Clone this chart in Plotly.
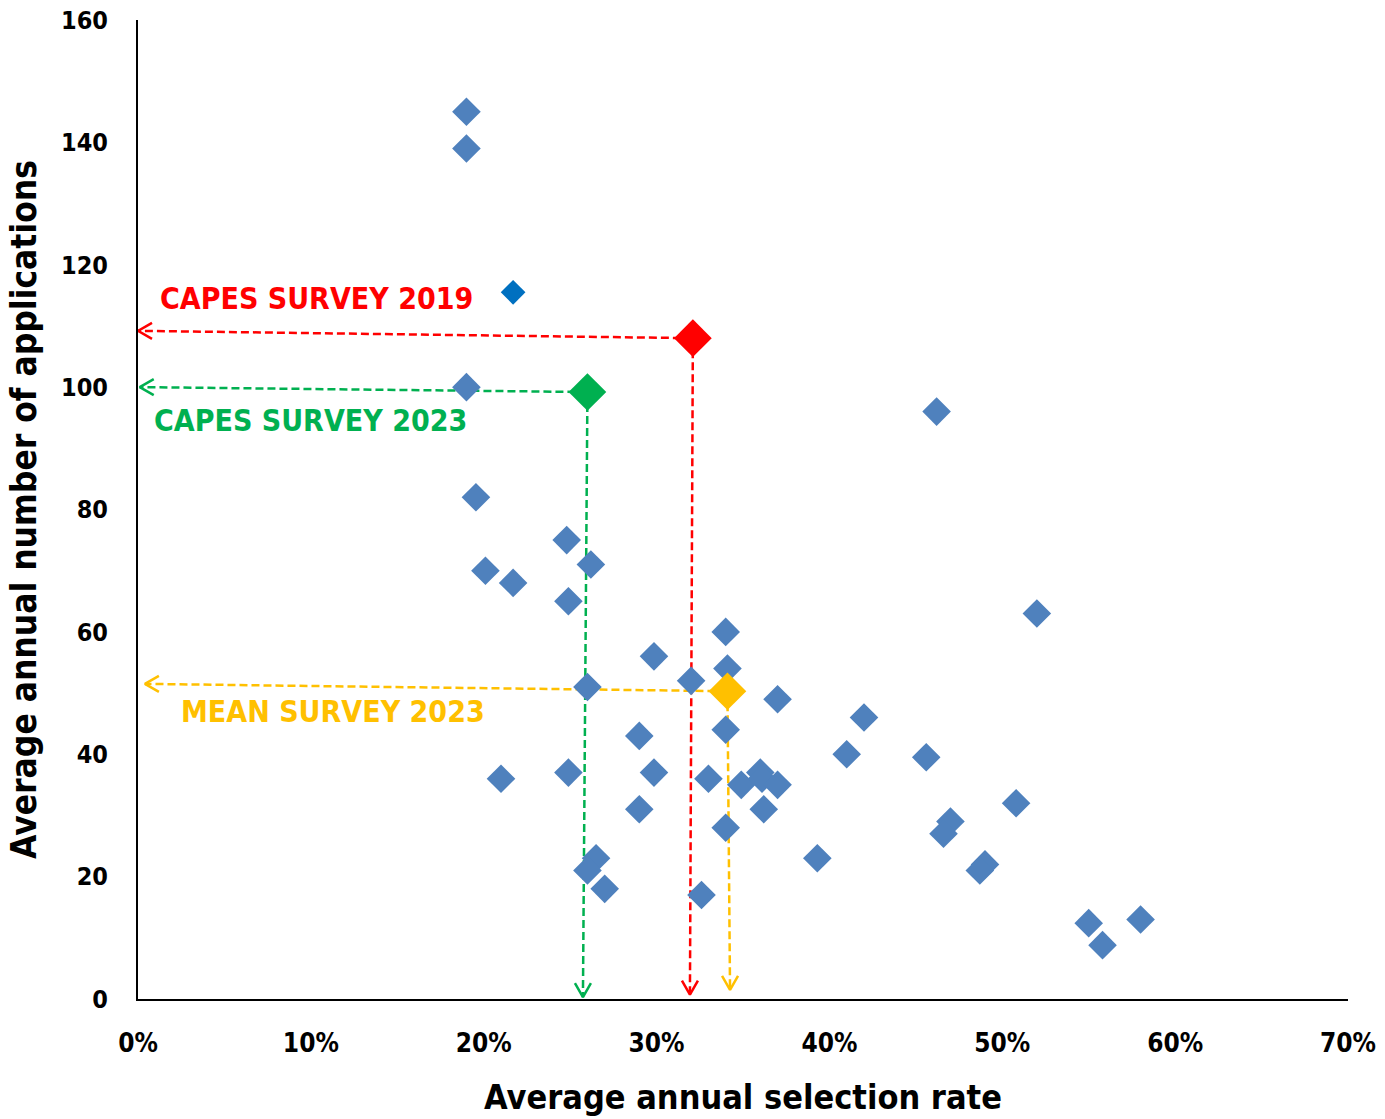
import plotly.graph_objects as go

# --- data -------------------------------------------------------------
sel_rate = [0.19, 0.19, 0.19, 0.1955, 0.201, 0.217, 0.248, 0.262, 0.249, 0.26,
            0.21, 0.249, 0.2985, 0.29, 0.2985, 0.29, 0.265, 0.26, 0.27, 0.32,
            0.34, 0.341, 0.34, 0.34, 0.326, 0.33, 0.349, 0.36, 0.361, 0.37,
            0.362, 0.37, 0.393, 0.41, 0.42, 0.462, 0.456, 0.47, 0.466, 0.49,
            0.487, 0.508, 0.52, 0.55, 0.558, 0.58]
applications = [145, 139, 100, 82, 70, 68, 75, 71, 65, 51,
                36, 37, 56, 43, 37, 31, 23, 21, 18, 52,
                60, 54, 44, 28, 17, 36, 35, 37, 36, 35,
                31, 49, 23, 40, 46, 96, 39.5, 29, 27, 22,
                21, 32, 63, 12.4, 8.8, 13]

highlight_rate = [0.217]
highlight_apps = [115.5]

survey_names = ["CAPES SURVEY 2019", "CAPES SURVEY 2023", "MEAN SURVEY 2023"]
survey_rate = [0.321, 0.26, 0.341]
survey_apps = [108, 99.2, 50.3]
survey_colors = ["#FF0000", "#00B050", "#FFC000"]
# where each dashed arrow ends (left arrow on y axis, down arrow on x axis)
left_tip_rate = [0.0, 0.001, 0.004]
left_tip_apps = [109.2, 100.0, 51.5]
down_tip_rate = [0.3193, 0.2574, 0.3425]
down_tip_apps = [0.7, 0.3, 1.5]
label_rate = [0.0115, 0.008, 0.0235]
label_apps = [114.5, 94.5, 47.0]

X_RANGE = [0, 0.7]
Y_RANGE = [0, 160]

# --- layout geometry (body margin removed in the page) ------------------
W, H = 1385, 1119
ML, MR, MT, MB = 138, 37, 20, 120
px_x = (W - ML - MR) / (X_RANGE[1] - X_RANGE[0])  # pixels per x unit
px_y = (H - MT - MB) / (Y_RANGE[1] - Y_RANGE[0])  # pixels per y unit

FONT = "Liberation Sans Narrow, DejaVu Sans Condensed, Open Sans, sans-serif"

fig = go.Figure()

# dashed arrows
for i in range(len(survey_names)):
    c = survey_colors[i]
    fig.add_trace(go.Scatter(
        x=[survey_rate[i], left_tip_rate[i]], y=[survey_apps[i], left_tip_apps[i]],
        mode="lines", line=dict(color=c, width=2.5, dash="8px,4px"),
        hoverinfo="skip", showlegend=False))
    fig.add_trace(go.Scatter(
        x=[survey_rate[i], down_tip_rate[i]], y=[survey_apps[i], down_tip_apps[i]],
        mode="lines", line=dict(color=c, width=2.5, dash="8px,4px"),
        hoverinfo="skip", showlegend=False))
    L, Wd = 14, 8
    tx, ty = left_tip_rate[i], left_tip_apps[i]
    fig.add_trace(go.Scatter(
        x=[tx + L / px_x, tx, tx + L / px_x], y=[ty + Wd / px_y, ty, ty - Wd / px_y],
        mode="lines", line=dict(color=c, width=2.5),
        hoverinfo="skip", showlegend=False))
    tx, ty = down_tip_rate[i], down_tip_apps[i]
    fig.add_trace(go.Scatter(
        x=[tx - Wd / px_x, tx, tx + Wd / px_x], y=[ty + L / px_y, ty, ty + L / px_y],
        mode="lines", line=dict(color=c, width=2.5),
        hoverinfo="skip", showlegend=False))

# main scatter
fig.add_trace(go.Scatter(
    x=sel_rate, y=applications, mode="markers",
    marker=dict(symbol="diamond", size=22, color="#4F81BD"),
    showlegend=False))
fig.add_trace(go.Scatter(
    x=highlight_rate, y=highlight_apps, mode="markers",
    marker=dict(symbol="diamond", size=19, color="#0070C0"),
    showlegend=False))
fig.add_trace(go.Scatter(
    x=survey_rate, y=survey_apps, mode="markers",
    marker=dict(symbol="diamond", size=29, color=survey_colors),
    showlegend=False))

# labels
for i in range(len(survey_names)):
    fig.add_annotation(
        x=label_rate[i], y=label_apps[i], text="<b>" + survey_names[i] + "</b>",
        showarrow=False, xanchor="left", yanchor="middle",
        font=dict(family=FONT, size=30, color=survey_colors[i]))

fig.update_layout(
    width=W, height=H,
    margin=dict(l=ML, r=MR, t=MT, b=MB),
    plot_bgcolor="white", paper_bgcolor="white",
    font=dict(family=FONT, color="black"),
    xaxis=dict(
        range=X_RANGE, dtick=0.1, tickformat=".0%", showgrid=False, zeroline=False,
        showline=True, linecolor="black", linewidth=2, ticks="", automargin=False,
        ticklabelstandoff=20, ticklabeloverflow="allow",
        tickfont=dict(family=FONT, size=26, weight="bold"),
        title=dict(text="<b>Average annual selection rate</b>",
                   font=dict(family=FONT, size=34), standoff=28)),
    yaxis=dict(
        range=Y_RANGE, dtick=20, showgrid=False, zeroline=False,
        showline=True, linecolor="black", linewidth=2, ticks="", automargin=False,
        ticklabelstandoff=23, ticklabeloverflow="allow",
        tickfont=dict(family=FONT, size=25, weight="bold"),
        title=dict(text="<b>Average annual number of applications</b>",
                   font=dict(family=FONT, size=35), standoff=14)),
)

fig.write_html("out.html", config={"displayModeBar": False},
               post_script="document.body.style.margin='0';document.body.style.overflow='hidden';")
